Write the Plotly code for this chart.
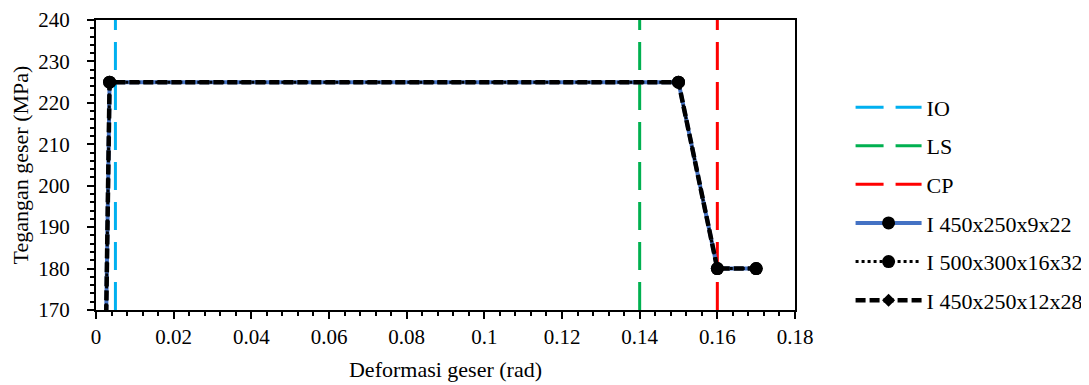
import plotly.graph_objects as go

# ---- data ----
deformasi = [0, 0.0035, 0.15, 0.16, 0.17]
tegangan_450_9 = [0, 225, 225, 180, 180]
tegangan_500_16 = [0, 225, 225, 180, 180]
tegangan_450_12 = [0, 225, 225, 180, 180]

limit_names = ["IO", "LS", "CP"]
limit_x = [0.005, 0.14, 0.16]
limit_colors = ["#00B0F0", "#00B050", "#FF0000"]

series_names = ["I 450x250x9x22", "I 500x300x16x32", "I 450x250x12x28"]

x_tick_vals = [0, 0.02, 0.04, 0.06, 0.08, 0.1, 0.12, 0.14, 0.16, 0.18]
x_tick_labels = ["0", "0.02", "0.04", "0.06", "0.08", "0.1", "0.12", "0.14", "0.16", "0.18"]
y_tick_vals = [170, 180, 190, 200, 210, 220, 230, 240]
y_tick_labels = ["170", "180", "190", "200", "210", "220", "230", "240"]
y_range = [170, 240]
x_range = [0, 0.18]

FONT = "Liberation Serif"

fig = go.Figure()

for i, (name, xv, col) in enumerate(zip(limit_names, limit_x, limit_colors)):
    fig.add_trace(go.Scatter(
        x=[xv, xv], y=y_range, mode="lines", name=name,
        line=dict(color=col, width=3, dash="28px,12px"),
        legendgroup=f"g{i}", hoverinfo="skip",
    ))

fig.add_trace(go.Scatter(
    x=deformasi, y=tegangan_450_9, mode="lines+markers", name=series_names[0],
    line=dict(color="#4472C4", width=4),
    marker=dict(symbol="circle", size=13, color="black"),
    legendgroup="g3",
))
fig.add_trace(go.Scatter(
    x=deformasi, y=tegangan_500_16, mode="lines+markers", name=series_names[1],
    line=dict(color="black", width=3, dash="dot"),
    marker=dict(symbol="circle", size=13, color="black"),
    legendgroup="g4",
))
fig.add_trace(go.Scatter(
    x=deformasi, y=tegangan_450_12, mode="lines+markers", name=series_names[2],
    line=dict(color="black", width=4.5, dash="10px,4px"),
    marker=dict(symbol="diamond", size=10, color="black"),
    legendgroup="g5",
))

axis_common = dict(
    showline=True, linecolor="black", linewidth=2, mirror=True,
    showgrid=False, zeroline=False, automargin=False,
    ticks="outside", ticklen=7, tickwidth=2, tickcolor="black",
    tickfont=dict(family=FONT, size=21, color="black"),
    ticklabeloverflow="allow",
)

fig.update_xaxes(
    range=x_range, tickvals=x_tick_vals, ticktext=x_tick_labels,
    minor=dict(ticks="outside", ticklen=4, tickwidth=1.5, tickcolor="black", dtick=0.004, showgrid=False),
    title=dict(text="Deformasi geser (rad)", font=dict(family=FONT, size=22, color="black"), standoff=13),
    ticklabelstandoff=0,
    **axis_common,
)
fig.update_yaxes(
    range=y_range, tickvals=y_tick_vals, ticktext=y_tick_labels,
    minor=dict(ticks="outside", ticklen=4, tickwidth=1.5, tickcolor="black", dtick=2, showgrid=False),
    title=dict(text="Tegangan geser (MPa)", font=dict(family=FONT, size=22, color="black"), standoff=6),
    ticklabelstandoff=13,
    **axis_common,
)

fig.update_layout(
    width=1081, height=377,
    margin=dict(l=88, r=294, t=12, b=75, autoexpand=False),
    paper_bgcolor="white", plot_bgcolor="white",
    font=dict(family=FONT, size=22, color="black"),
    showlegend=True,
    legend=dict(
        x=1.0795, xanchor="left", y=0.366, yanchor="middle",
        font=dict(family=FONT, size=22, color="black"),
        itemwidth=66, tracegroupgap=7, traceorder="grouped",
        bgcolor="rgba(0,0,0,0)",
    ),
)

fig.write_html("out.html")
